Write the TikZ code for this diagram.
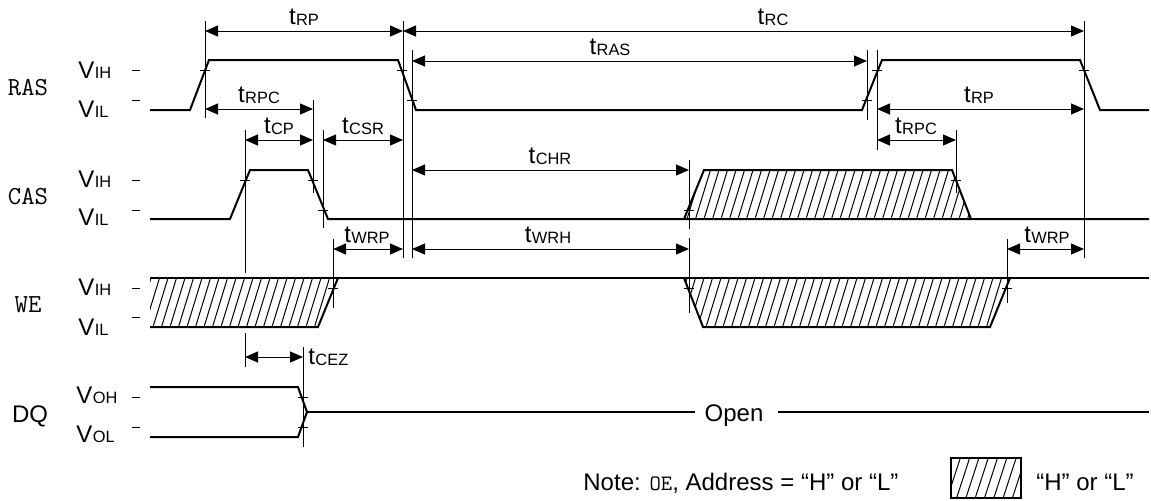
\documentclass[tikz,border=0pt]{standalone}
\usepackage{fontspec}
\setmainfont{Liberation Sans}
\usetikzlibrary{arrows.meta}
\newcommand{\subfont}{\fontsize{8.2}{9}\selectfont}
\newcommand{\tlab}[1]{t\kern0.2pt\raisebox{-0.5pt}{\subfont #1}}
\newcommand{\vlab}[2]{#1\kern0.2pt{\subfont #2}}

\begin{document}
\begin{tikzpicture}[x=0.5pt,y=-0.5pt,
  signal/.style={line width=1pt,line join=miter},
  dimline/.style={line width=0.5pt,{Triangle[length=6.5pt,width=5.5pt]}-{Triangle[length=6.5pt,width=5.5pt]}},
  extline/.style={line width=0.5pt},
  cross/.style={line width=0.5pt},
  hatch/.style={line width=0.5pt},
  lbl/.style={inner sep=0pt,anchor=base,font=\fontsize{12}{13}\selectfont},
  sname/.style={inner sep=0pt,anchor=base,font=\ttfamily\fontsize{13}{14}\selectfont}]
\useasboundingbox (0,0) rectangle (1151,500);

% signal names and levels
\node[sname] (ras) at (28,95) {RAS};
\node[sname] (cas) at (28,204) {CAS};
\node[sname] (we) at (28,312) {WE};
\node[lbl] (dq) at (30,422) {DQ};
\node[lbl,anchor=base west] (rasH) at (78,78) {\vlab{V}{IH}};
\node[lbl,anchor=base west] (rasL) at (78,117) {\vlab{V}{IL}};
\node[lbl,anchor=base west] (casH) at (78,187) {\vlab{V}{IH}};
\node[lbl,anchor=base west] (casL) at (78,225) {\vlab{V}{IL}};
\node[lbl,anchor=base west] (weH) at (78,295) {\vlab{V}{IH}};
\node[lbl,anchor=base west] (weL) at (78,335) {\vlab{V}{IL}};
\node[lbl,anchor=base west] (dqH) at (76,403) {\vlab{V}{OH}};
\node[lbl,anchor=base west] (dqL) at (76,442) {\vlab{V}{OL}};
\foreach \y in {70,100,180,210,288,317,397,427}
  \draw[cross] (132,\y) -- (140,\y);

% hatched regions
\begin{scope}
  \clip (684,219) -- (704,170) -- (952,170) -- (971,219) -- cycle;
  \foreach \x in {670,678.5,...,975} \draw[hatch] (\x,219) -- ++(15,-49);
\end{scope}
\begin{scope}
  \clip (150,278) -- (338,278) -- (318,327) -- (150,327) -- cycle;
  \foreach \x in {136,144.5,...,340} \draw[hatch] (\x,327) -- ++(15,-49);
\end{scope}
\begin{scope}
  \clip (684,278) -- (1010,278) -- (990,327) -- (703,327) -- cycle;
  \foreach \x in {672,680.5,...,1012} \draw[hatch] (\x,327) -- ++(15,-49);
\end{scope}

% waveforms
\draw[signal] (150,110) -- (190,110) -- (209,60) -- (398,60) -- (416,110) -- (862,110)
  -- (882,60) -- (1080,60) -- (1100,110) -- (1149,110);
\draw[signal] (150,219) -- (230,219) -- (250,170) -- (308,170) -- (328,219) -- (1149,219);
\draw[signal] (684,219) -- (704,170) -- (952,170) -- (971,219);
\draw[signal] (150,278) -- (1149,278);
\draw[signal] (150,327) -- (318,327) -- (338,278);
\draw[signal] (684,278) -- (703,327) -- (990,327) -- (1010,278);
\draw[signal] (150,387) -- (298,387) -- (307,412) -- (298,437) -- (150,437);
\draw[signal] (307,412) -- (695,412);
\draw[signal] (778,412) -- (1149,412);
\node[lbl] (open) at (734,421) {Open};

% extension lines
\draw[extline] (205,21) -- (205,118);
\draw[extline] (403,21) -- (403,258);
\draw[extline] (412,50) -- (412,258);
\draw[extline] (313,100) -- (313,193);
\draw[extline] (245,130) -- (245,273);
\draw[extline] (245,333) -- (245,367);
\draw[extline] (323,130) -- (323,228);
\draw[extline] (333,239) -- (333,308);
\draw[extline] (689,160) -- (689,229);
\draw[extline] (689,238) -- (689,313);
\draw[extline] (867,50) -- (867,120);
\draw[extline] (877,50) -- (877,150);
\draw[extline] (956,130) -- (956,193);
\draw[extline] (1084,21) -- (1084,258);
\draw[extline] (1007,239) -- (1007,303);
\draw[extline] (303,347) -- (303,447);

% crossing marks
\foreach \x/\y in {205/70,402/70,412/100,245/180,313/180,323/210,333/288,689/210,
  956/180,867/100,877/70,1084/70,689/288,1007/288,303/397,303/427}
  \draw[cross] (\x-5,\y) -- (\x+5,\y);

% timings
\draw[dimline] (205,31) -- (403,31);
\node[lbl] (tRPa) at (304,24) {\tlab{RP}};
\draw[dimline] (403,31) -- (1084,31);
\node[lbl] (tRC) at (773,24) {\tlab{RC}};
\draw[dimline] (412,61) -- (867,61);
\node[lbl] (tRAS) at (610,54) {\tlab{RAS}};
\draw[dimline] (205,109) -- (313,109);
\node[lbl] (tRPCa) at (259,102) {\tlab{RPC}};
\draw[dimline] (245,140) -- (313,140);
\node[lbl] (tCP) at (279,133) {\tlab{CP}};
\draw[dimline] (323,140) -- (403,140);
\node[lbl] (tCSR) at (363,133) {\tlab{CSR}};
\draw[dimline] (412,170) -- (689,170);
\node[lbl] (tCHR) at (550,163) {\tlab{CHR}};
\draw[dimline] (877,109) -- (1084,109);
\node[lbl] (tRPb) at (979,102) {\tlab{RP}};
\draw[dimline] (877,140) -- (956,140);
\node[lbl] (tRPCb) at (916,133) {\tlab{RPC}};
\draw[dimline] (333,249) -- (403,249);
\node[lbl] (tWRPa) at (367,242) {\tlab{WRP}};
\draw[dimline] (412,249) -- (689,249);
\node[lbl] (tWRH) at (548,242) {\tlab{WRH}};
\draw[dimline] (1007,249) -- (1084,249);
\node[lbl] (tWRPb) at (1047,242) {\tlab{WRP}};
\draw[dimline] (245,357) -- (303,357);
\node[lbl,anchor=base west] (tCEZ) at (308,364) {\tlab{CEZ}};

% note and legend
\node[lbl,anchor=base west] (note) at (583,490)
  {Note: {\ttfamily\fontsize{11}{12}\selectfont OE}, Address = “H” or “L”};
\begin{scope}
  \clip (951,458) rectangle (1021,498);
  \foreach \x in {938,947.3,...,1025} \draw[hatch] (\x,498) -- ++(13,-40);
\end{scope}
\draw[signal] (951,458) rectangle (1021,498);
\node[lbl,anchor=base west] (legend) at (1036,490) {“H” or “L”};
\end{tikzpicture}
\end{document}
